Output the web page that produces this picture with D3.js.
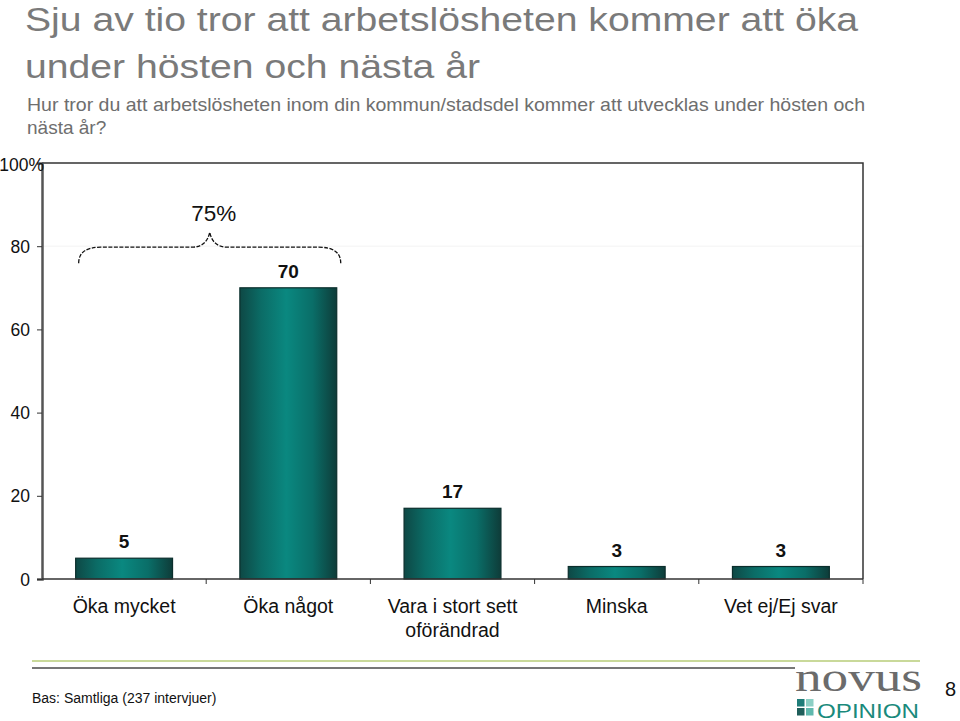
<!DOCTYPE html>
<html><head><meta charset="utf-8">
<script src="https://cdn.jsdelivr.net/npm/d3@7"></script>
<style>body{margin:0;background:#fff}svg{display:block}</style>
</head><body>
<script>
const categories = [["Öka mycket"], ["Öka något"], ["Vara i stort sett", "oförändrad"], ["Minska"], ["Vet ej/Ej svar"]];
const values = [5, 70, 17, 3, 3];
const yTicks = [0, 20, 40, 60, 80, 100];
const bracketLabel = "75%";

const W = 960, H = 721;
const svg = d3.select("body").append("svg").attr("width", W).attr("height", H).style("font-family", "'Liberation Sans', Arial, sans-serif");

// Titles
svg.append("text").attr("x", 25).attr("y", 31).attr("font-size", 34).attr("fill", "#7a7a7a").attr("textLength", 833).attr("lengthAdjust", "spacingAndGlyphs").text("Sju av tio tror att arbetslösheten kommer att öka");
svg.append("text").attr("x", 25).attr("y", 78).attr("font-size", 34).attr("fill", "#7a7a7a").attr("textLength", 455).attr("lengthAdjust", "spacingAndGlyphs").text("under hösten och nästa år");
svg.append("text").attr("x", 27).attr("y", 111).attr("font-size", 19).attr("fill", "#6e6e6e").attr("textLength", 838).attr("lengthAdjust", "spacingAndGlyphs").text("Hur tror du att arbetslösheten inom din kommun/stadsdel kommer att utvecklas under hösten och");
svg.append("text").attr("x", 27).attr("y", 134).attr("font-size", 19).attr("fill", "#6e6e6e").text("nästa år?");

const x0 = 42, x1 = 863, yTop = 163, yBot = 579;
const x = d3.scaleBand().domain(d3.range(values.length)).range([x0, x1]).paddingInner(0.41).paddingOuter(0.205);
const y = d3.scaleLinear().domain([0, 100]).range([yBot, yTop]);

const defs = svg.append("defs");
const g = defs.append("linearGradient").attr("id", "barg").attr("x1", "0").attr("x2", "1").attr("y1", "0").attr("y2", "0");
g.append("stop").attr("offset", "0%").attr("stop-color", "#0e4845");
g.append("stop").attr("offset", "22%").attr("stop-color", "#0b6c66");
g.append("stop").attr("offset", "48%").attr("stop-color", "#0a8880");
g.append("stop").attr("offset", "75%").attr("stop-color", "#0a6e68");
g.append("stop").attr("offset", "100%").attr("stop-color", "#0e3c39");

// faint gridline at 80 only (as in reference)
svg.append("g").selectAll("line").data(yTicks.filter(d => d === 80)).join("line")
  .attr("x1", x0).attr("x2", x1).attr("y1", d => y(d)).attr("y2", d => y(d))
  .attr("stroke", "#f3f3f3").attr("stroke-width", 1);

// frame top & right
svg.append("path").attr("d", `M${x0},${yTop}H${x1}V${yBot}`).attr("fill", "none").attr("stroke", "#333").attr("stroke-width", 1.5);

// bars
svg.append("g").selectAll("rect").data(values).join("rect")
  .attr("x", (d, i) => x(i)).attr("width", x.bandwidth())
  .attr("y", d => y(d)).attr("height", d => yBot - y(d))
  .attr("fill", "url(#barg)").attr("stroke", "#0b2e2c").attr("stroke-width", 1.2);

// value labels
svg.append("g").selectAll("text").data(values).join("text")
  .attr("x", (d, i) => x(i) + x.bandwidth() / 2).attr("y", d => y(d) - 10)
  .attr("text-anchor", "middle").attr("font-size", 19).attr("font-weight", "bold").attr("fill", "#111")
  .text(d => d);

// Y axis
const yAxis = d3.axisLeft(y).tickValues(yTicks).tickSize(5).tickFormat(d => d === 100 ? "100%" : d);
const ya = svg.append("g").attr("transform", `translate(${x0},0)`).call(yAxis);
ya.select(".domain").attr("stroke", "#555").attr("stroke-width", 2.5);
ya.selectAll(".tick line").attr("stroke", "#333");
ya.selectAll(".tick text").attr("x", -12).attr("font-size", 17.5).attr("fill", "#111").attr("font-family", "'Liberation Sans', Arial, sans-serif").attr("dy", "0.35em");
ya.selectAll(".tick").filter(d => d === 100).select("text").attr("x", 2).attr("font-size", 17.5).attr("dy", "0.45em");
ya.selectAll(".tick").filter(d => d === 100).select("line").remove();

// X axis
const xa = svg.append("g").attr("transform", `translate(0,${yBot})`);
xa.append("line").attr("x1", x0).attr("x2", x1).attr("stroke", "#333").attr("stroke-width", 1.5);
const step = x.step();
xa.selectAll("line.t").data(d3.range(values.length)).join("line").attr("class", "t")
  .attr("x1", (d, i) => x(i) + x.bandwidth() / 2 + step / 2).attr("x2", (d, i) => x(i) + x.bandwidth() / 2 + step / 2)
  .attr("y1", 0).attr("y2", 5).attr("stroke", "#333");

// category labels
const cl = svg.append("g").selectAll("text").data(categories).join("text")
  .attr("x", (d, i) => x(i) + x.bandwidth() / 2).attr("y", 613)
  .attr("text-anchor", "middle").attr("font-size", 19.5).attr("fill", "#111");
cl.selectAll("tspan").data(d => d).join("tspan")
  .attr("x", function () { return this.parentNode.getAttribute("x"); })
  .attr("dy", (d, i) => i === 0 ? 0 : 24).text(d => d);

// bracket over first two bars
const bxL = x(0) + 3, bxR = x(1) + x.bandwidth() + 4;
const bMid = (bxL + bxR) / 2;
const by = y(80) + 1, bPeak = y(80) - 14, bEnd = y(80) + 17;
const bp = `M${bxL},${bEnd} Q${bxL},${by} ${bxL + 22},${by} L${bMid - 18},${by} Q${bMid - 3},${by} ${bMid},${bPeak} Q${bMid + 3},${by} ${bMid + 18},${by} L${bxR - 22},${by} Q${bxR},${by} ${bxR},${bEnd}`;
svg.append("path").attr("d", bp).attr("fill", "none").attr("stroke", "#111").attr("stroke-width", 1.3).attr("stroke-dasharray", "4,1.5");
svg.append("text").attr("x", bMid + 4).attr("y", 221).attr("text-anchor", "middle").attr("font-size", 22.5).attr("fill", "#111").text(bracketLabel);

// footer
svg.append("line").attr("x1", 32).attr("x2", 920).attr("y1", 661).attr("y2", 661).attr("stroke", "#c9d99a").attr("stroke-width", 2);
svg.append("line").attr("x1", 32).attr("x2", 795).attr("y1", 668).attr("y2", 668).attr("stroke", "#777").attr("stroke-width", 2);
svg.append("text").attr("x", 32).attr("y", 703).attr("font-size", 14).attr("fill", "#111").text("Bas: Samtliga (237 intervjuer)");

// logo
svg.append("text").attr("x", 795).attr("y", 691).attr("font-size", 40).attr("font-family", "'Liberation Serif', 'DejaVu Serif', serif").attr("fill", "#6b6b6b").attr("textLength", 127).attr("lengthAdjust", "spacingAndGlyphs").text("novus");
const sq = [[797, 699, "#1f7d79"], [806, 699, "#8ccfc4"], [797, 708, "#1f5e5a"], [806, 708, "#5fb8ad"]];
svg.append("g").selectAll("rect").data(sq).join("rect").attr("x", d => d[0]).attr("y", d => d[1]).attr("width", 7.5).attr("height", 7.5).attr("fill", d => d[2]);
svg.append("text").attr("x", 817).attr("y", 718).attr("font-size", 20).attr("fill", "#1a8a7c").attr("textLength", 102).attr("lengthAdjust", "spacingAndGlyphs").text("OPINION");
svg.append("text").attr("x", 945).attr("y", 696).attr("font-size", 20).attr("fill", "#111").text("8");
</script>
</body></html>
